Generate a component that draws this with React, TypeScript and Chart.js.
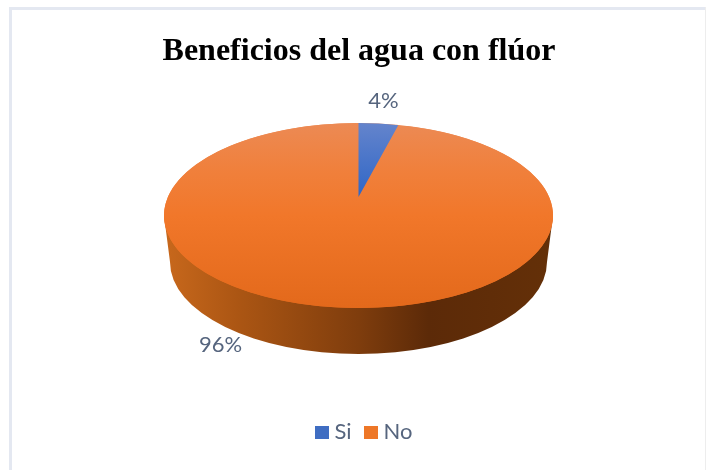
import React, { useEffect, useRef } from "react";
import { Chart, registerables } from "chart.js";

Chart.register(...registerables);

const titleText = "Beneficios del agua con flúor";
const categories = ["Si", "No"];
const seriesValues = [4, 96];
const swatchColors = ["#3F6DC2", "#EE7727"];

const TOP = { cx: 358.5, cy: 215.5, rx: 194.5, ry: 92.5 };
const WEDGE = { cx: 358.5, cy: 197, rx: 160, ry: 74 };
const BOTTOM = { cx: 358.5, cy: 262, rx: 188.5, ry: 92 };
const TEXT_COLOR = "#56657E";
const TEXT_FONT = '22px Lato, "Open Sans", sans-serif';

const vGrad = (ctx: CanvasRenderingContext2D, y0: number, y1: number, stops: [number, string][]) => {
  const g = ctx.createLinearGradient(0, y0, 0, y1);
  stops.forEach(([o, c]) => g.addColorStop(o, c));
  return g;
};
const ORANGE_STOPS: [number, string][] = [
  [0, "#EC8A54"],
  [0.25, "#F0803C"],
  [0.5, "#F1772A"],
  [1, "#E3691B"],
];
const BLUE_STOPS: [number, string][] = [
  [0, "#6484CC"],
  [1, "#2F66C6"],
];

const pie3d = {
  id: "pie3d",
  beforeDatasetDraw(chart: any) {
    const ctx: CanvasRenderingContext2D = chart.ctx;
    const arcs = chart.getDatasetMeta(0).data;
    ctx.save();
    // side wall
    const wall = ctx.createLinearGradient(TOP.cx - TOP.rx, 0, TOP.cx + TOP.rx, 0);
    wall.addColorStop(0, "#C8681C");
    wall.addColorStop(0.2, "#AA5513");
    wall.addColorStop(0.5, "#7F3D0D");
    wall.addColorStop(0.68, "#5C2A08");
    wall.addColorStop(1, "#643008");
    ctx.fillStyle = wall;
    ctx.beginPath();
    ctx.moveTo(TOP.cx - TOP.rx, TOP.cy);
    ctx.lineTo(BOTTOM.cx - BOTTOM.rx, BOTTOM.cy);
    ctx.ellipse(BOTTOM.cx, BOTTOM.cy, BOTTOM.rx, BOTTOM.ry, 0, Math.PI, 0, true);
    ctx.lineTo(TOP.cx + TOP.rx, TOP.cy);
    ctx.closePath();
    ctx.fill();
    // top disc underlay
    ctx.fillStyle = vGrad(ctx, TOP.cy - TOP.ry, TOP.cy + TOP.ry, ORANGE_STOPS);
    ctx.beginPath();
    ctx.ellipse(TOP.cx, TOP.cy, TOP.rx, TOP.ry, 0, 0, Math.PI * 2);
    ctx.fill();
    ctx.restore();

    const drawArc = (arc: any, box: typeof TOP, stops: [number, string][]) => {
      const R = arc.outerRadius;
      ctx.save();
      ctx.translate(box.cx, box.cy);
      ctx.scale(box.rx / R, box.ry / R);
      ctx.translate(-arc.x, -arc.y);
      const options = { ...arc.options, backgroundColor: vGrad(ctx, arc.y - R, arc.y + R * (box === WEDGE ? 0 : 1), stops) };
      const saved = arc.options;
      arc.options = options;
      arc.draw(ctx);
      arc.options = saved;
      ctx.restore();
    };
    drawArc(arcs[1], TOP, ORANGE_STOPS);
    drawArc(arcs[0], WEDGE, BLUE_STOPS);

    ctx.save();
    ctx.font = TEXT_FONT;
    ctx.fillStyle = TEXT_COLOR;
    ctx.textBaseline = "middle";
    // value labels
    ctx.textAlign = "center";
    const total = seriesValues.reduce((a, b) => a + b, 0);
    const label = (i: number) => `${Math.round((seriesValues[i] / total) * 100)}%`;
    ctx.fillText(label(0), 383.5, 101);
    ctx.fillText(label(1), 220.5, 345);
    // legend
    ctx.textAlign = "left";
    const legendX = [315, 364];
    categories.forEach((name, i) => {
      ctx.fillStyle = swatchColors[i];
      ctx.fillRect(legendX[i], 426, 14, 13);
      ctx.fillStyle = TEXT_COLOR;
      ctx.fillText(name, legendX[i] + 19.5, 432);
    });
    ctx.restore();
    return false;
  },
};

export default function App() {
  const ref = useRef<HTMLCanvasElement>(null);
  useEffect(() => {
    const chart = new Chart(ref.current!, {
      type: "pie",
      data: {
        labels: categories,
        datasets: [{ data: seriesValues, backgroundColor: swatchColors, borderWidth: 0 }],
      },
      options: {
        responsive: false,
        animation: false,
        layout: { padding: { top: 33, bottom: 14, left: 12 } },
        plugins: {
          title: {
            display: true,
            text: titleText,
            color: "#000000",
            font: { family: '"Liberation Serif", serif', size: 32, weight: "bold" },
            padding: { top: 0, bottom: 0 },
          },
          legend: { display: false },
          tooltip: { enabled: false },
        },
      },
      plugins: [pie3d],
    } as any);
    return () => chart.destroy();
  }, []);
  return (
    <div style={{ position: "absolute", left: 0, top: 0, width: 706, height: 470, background: "#fff" }}>
      <canvas ref={ref} width={706} height={470} style={{ display: "block" }} />
      <div style={{ position: "absolute", left: 9, top: 7, width: 696, height: 3, background: "#E4E8F1" }} />
      <div style={{ position: "absolute", left: 9, top: 7, width: 3, height: 463, background: "#E4E8F1" }} />
      <div style={{ position: "absolute", left: 705, top: 7, width: 1, height: 463, background: "#EDEDED" }} />
    </div>
  );
}
